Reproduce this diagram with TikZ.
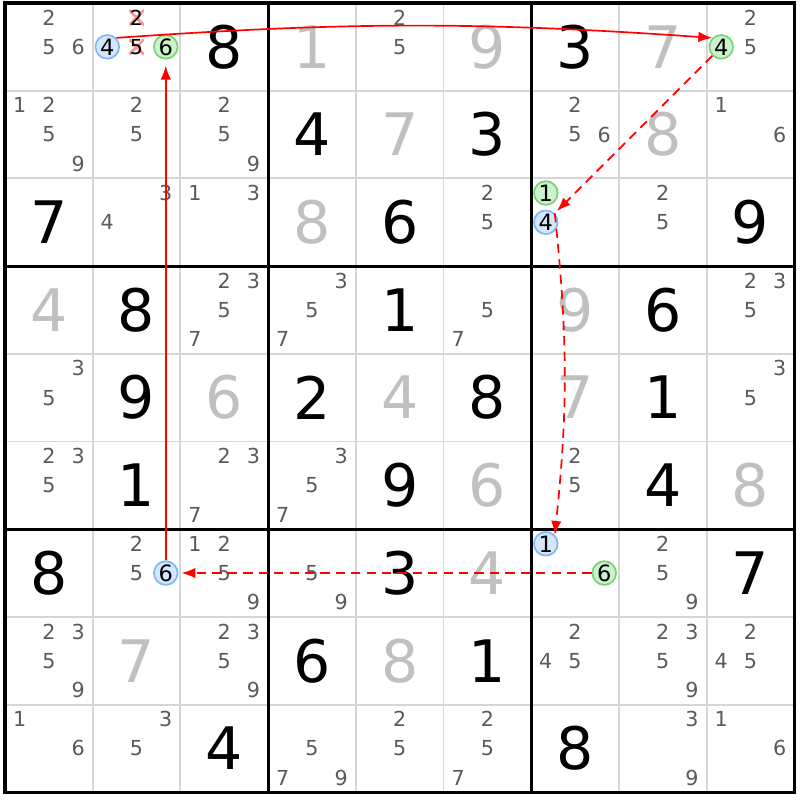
\documentclass[tikz,border=0pt]{standalone}
\usepackage{fontspec}
\setmainfont{DejaVu Sans}
\usetikzlibrary{arrows.meta}

\definecolor{pencilgray}{RGB}{90,90,90}
\definecolor{placedgray}{RGB}{192,192,192}
\definecolor{gridgray}{RGB}{214,214,214}
\definecolor{bluefill}{RGB}{212,230,252}
\definecolor{blueline}{RGB}{128,184,246}
\definecolor{greenfill}{RGB}{204,242,204}
\definecolor{greenline}{RGB}{118,212,118}
\definecolor{crossred}{RGB}{250,150,150}

\tikzset{
	given/.style={font=\fontsize{19}{19}\selectfont, inner sep=0pt},
	placed/.style={given, text=placedgray},
	pencil/.style={font=\fontsize{6.7}{7}\selectfont, text=pencilgray, inner sep=0pt},
	onb/.style={pencil, font=\fontsize{7.3}{8}\selectfont, text=black, circle, draw=blueline, fill=bluefill, line width=0.55pt, minimum size=0.27cm},
	ong/.style={onb, draw=greenline, fill=greenfill},
	struck/.style={pencil, text=black, minimum width=0.17cm, minimum height=0.17cm,
		path picture={\draw[crossred, line width=0.9pt]
			(path picture bounding box.north west) -- (path picture bounding box.south east)
			(path picture bounding box.south west) -- (path picture bounding box.north east);}},
	strong/.style={red, line width=0.55pt, -{Latex[length=4.5pt,width=3.4pt]}},
	weak/.style={strong, dash pattern=on 3pt off 2pt},
}

\begin{document}
\begin{tikzpicture}[y=-1cm]
	%\draw[help lines] (0,0) grid (9,9);
	\useasboundingbox[fill=white] (-0.057,-0.034) rectangle (9.065,9.088);
	\foreach \i in {1,...,8}{
		\draw[gridgray, line width=0.6pt] (\i,0) -- (\i,9);
		\draw[gridgray, line width=0.6pt] (0,\i) -- (9,\i);
	}
	\foreach \i in {3,6}{
		\draw[line width=1pt] (\i,0) -- (\i,9);
		\draw[line width=1pt] (0,\i) -- (9,\i);
	}
	\draw[line width=1pt] (0,0) rectangle (9,9);
	% givens and placed digits
	\foreach \r/\c/\d in {1/3/8, 1/7/3, 2/4/4, 2/6/3, 3/1/7, 3/5/6, 3/9/9,
		4/2/8, 4/5/1, 4/8/6, 5/2/9, 5/4/2, 5/6/8, 5/8/1, 6/2/1, 6/5/9, 6/8/4,
		7/1/8, 7/5/3, 7/9/7, 8/4/6, 8/6/1, 9/3/4, 9/7/8}
		\node[given] (g\r\c) at (\c-0.5,\r-0.5) {\d};
	\foreach \r/\c/\d in {1/4/1, 1/6/9, 1/8/7, 2/5/7, 2/8/8, 3/4/8, 4/1/4, 4/7/9,
		5/3/6, 5/5/4, 5/7/7, 6/6/6, 6/9/8, 7/6/4, 8/2/7, 8/5/8}
		\node[placed] (g\r\c) at (\c-0.5,\r-0.5) {\d};
	% candidates
	\foreach \r/\c/\ds in {1/1/{2,5,6}, 1/5/{2,5}, 1/9/{2,5},
		2/1/{1,2,5,9}, 2/2/{2,5}, 2/3/{2,5,9}, 2/7/{2,5,6}, 2/9/{1,6},
		3/2/{3,4}, 3/3/{1,3}, 3/6/{2,5}, 3/8/{2,5},
		4/3/{2,3,5,7}, 4/4/{3,5,7}, 4/6/{5,7}, 4/9/{2,3,5},
		5/1/{3,5}, 5/9/{3,5},
		6/1/{2,3,5}, 6/3/{2,3,7}, 6/4/{3,5,7}, 6/7/{2,5},
		7/2/{2,5}, 7/3/{1,2,5,9}, 7/4/{5,9}, 7/8/{2,5,9},
		8/1/{2,3,5,9}, 8/3/{2,3,5,9}, 8/7/{2,4,5}, 8/8/{2,3,5,9}, 8/9/{2,4,5},
		9/1/{1,6}, 9/2/{3,5}, 9/4/{5,7,9}, 9/5/{2,5}, 9/6/{2,5,7}, 9/8/{3,9}, 9/9/{1,6}}{
		\foreach \k in \ds{
			\pgfmathsetmacro\px{\c-1+(mod(\k-1,3)+0.5)/3}
			\pgfmathsetmacro\py{\r-1+(int((\k-1)/3)+0.5)/3}
			\node[pencil] (p\r\c\k) at (\px,\py) {\k};
		}
	}
	\foreach \r/\c/\k/\kind in {1/2/2/struck, 1/2/5/struck, 1/2/4/onb, 1/2/6/ong,
		1/9/4/ong, 3/7/1/ong, 3/7/4/onb, 7/7/1/onb, 7/7/6/ong, 7/2/6/onb}{
		\pgfmathsetmacro\px{\c-1+(mod(\k-1,3)+0.5)/3}
		\pgfmathsetmacro\py{\r-1+(int((\k-1)/3)+0.5)/3}
		\node[\kind] (p\r\c\k) at (\px,\py) {\k};
	}
	% chain
	\draw[strong] (p124.north east) to[bend left=4] (p194.north west);
	\draw[weak, shorten >=1pt] (p194) -- (p374);
	\draw[weak] (p374.north east) to[bend left=6] (p771.north east);
	\draw[weak, shorten >=1pt] (p776) -- (p726);
	\draw[strong, shorten >=2pt] (p726) -- (p126);
\end{tikzpicture}
\end{document}
